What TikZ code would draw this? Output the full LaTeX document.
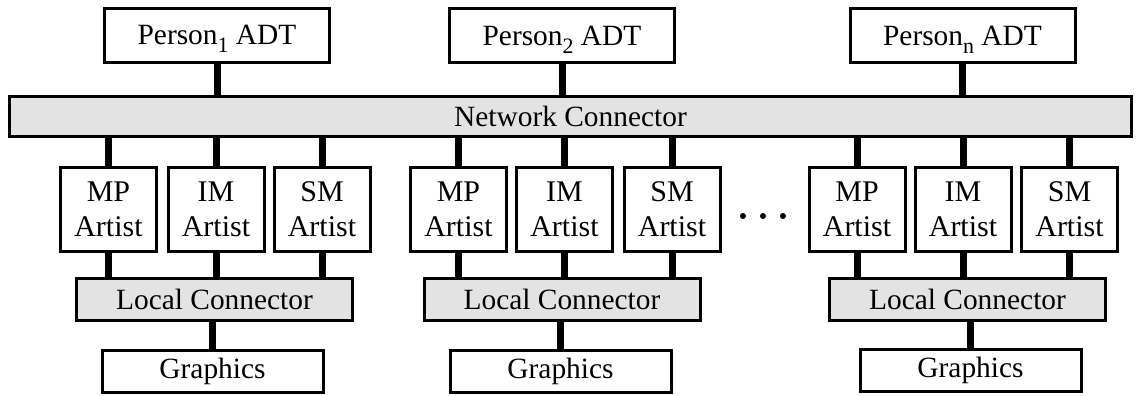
\documentclass[tikz,border=0pt]{standalone}
\usepackage{fontspec}
\setmainfont{Liberation Serif}
\newcommand{\psub}[1]{\smash{\raisebox{-4pt}{\fontsize{11}{11}\selectfont #1}}}
\tikzset{
  box/.style={draw, line width=1.5pt, fill=white, inner sep=0pt, align=center,
    font=\fontsize{14.7}{17.5}\selectfont},
  personbox/.style={box, minimum width=112.5pt, minimum height=27pt},
  artistbox/.style={box, minimum width=48pt, minimum height=42pt,
    font=\fontsize{15}{17.5}\selectfont},
  netbar/.style={box, fill=black!11, minimum width=561pt, minimum height=20pt},
  localbar/.style={box, fill=black!11, minimum width=138pt, minimum height=21pt},
  gfxbox/.style={box, minimum width=110.5pt, minimum height=21pt},
  stem/.style={line width=3.5pt},
}
\begin{document}
\begin{tikzpicture}[x=0.5pt, y=-0.5pt]
  \useasboundingbox (0,0) rectangle (1140,396);

  % top row
  \node[personbox] (p1) at (217,35) {Person\psub{1} ADT};
  \node[personbox] (p2) at (562,35.5) {Person\psub{2} ADT};
  \node[personbox] (pn) at (962.5,35.5) {Person\psub{n} ADT};

  \node[netbar] (net) at (570.5,116.5) {Network Connector};

  % artists
  \node[artistbox] (mp1) at (108.5,209.5) {MP\\Artist};
  \node[artistbox] (im1) at (216,209.5) {IM\\Artist};
  \node[artistbox] (sm1) at (322,209.5) {SM\\Artist};

  \node[artistbox] (mp2) at (458.5,209.5) {MP\\Artist};
  \node[artistbox] (im2) at (564.5,209.5) {IM\\Artist};
  \node[artistbox] (sm2) at (672,209.5) {SM\\Artist};

  \node[artistbox] (mp3) at (857,209.5) {MP\\Artist};
  \node[artistbox] (im3) at (963,209.5) {IM\\Artist};
  \node[artistbox] (sm3) at (1069.5,209.5) {SM\\Artist};

  \fill (743,216) circle (3) (763,216) circle (3) (783,216) circle (3);

  % local side
  \node[localbar] (loc1) at (214.5,299.5) {Local Connector};
  \node[localbar] (loc2) at (562,299.5) {Local Connector};
  \node[localbar] (loc3) at (967.5,299.5) {Local Connector};

  \node[gfxbox] (gfx1) at (212.5,371) {Graphics};
  \node[gfxbox] (gfx2) at (560.5,371) {Graphics};
  \node[gfxbox] (gfx3) at (970.5,370) {Graphics};

  % links
  \draw[stem] (p1.south) -- (p1.south |- net.north);
  \draw[stem] (p2.south) -- (p2.south |- net.north);
  \draw[stem] (pn.south) -- (pn.south |- net.north);

  \foreach \a/\l in {mp1/loc1,im1/loc1,sm1/loc1,mp2/loc2,im2/loc2,sm2/loc2,mp3/loc3,im3/loc3,sm3/loc3}{
    \draw[stem] (\a.north) -- (\a.north |- net.south);
    \draw[stem] (\a.south) -- (\a.south |- \l.north);
  }

  \draw[stem] (gfx1.north) -- (gfx1.north |- loc1.south);
  \draw[stem] (gfx2.north) -- (gfx2.north |- loc2.south);
  \draw[stem] (gfx3.north) -- (gfx3.north |- loc3.south);
\end{tikzpicture}
\end{document}
